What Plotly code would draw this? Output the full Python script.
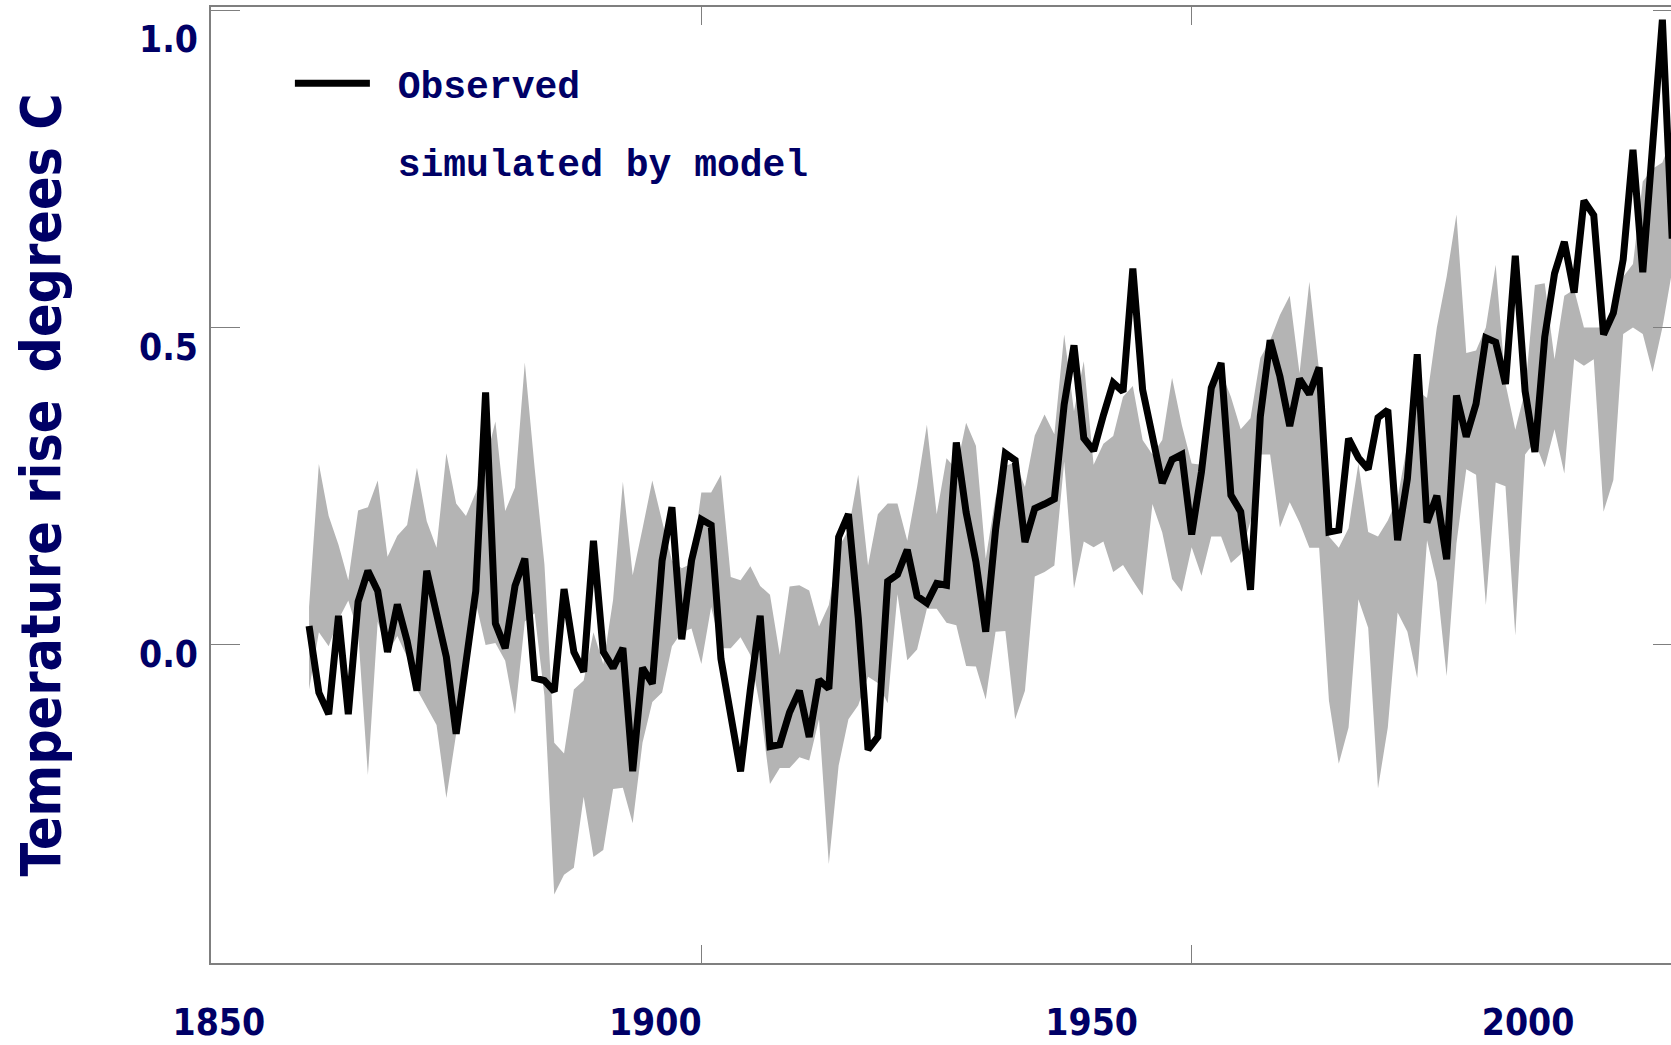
import plotly.graph_objects as go

years = list(range(1860, 2000))

observed = [
    0.030, -0.075, -0.109, 0.046, -0.109, 0.068, 0.117, 0.085, -0.011, 0.064,
    0.006, -0.072, 0.117, 0.051, -0.019, -0.140, -0.025, 0.085, 0.398, 0.034,
    -0.005, 0.093, 0.136, -0.052, -0.056, -0.073, 0.088, -0.011, -0.042, 0.164,
    -0.011, -0.036, -0.005, -0.199, -0.036, -0.061, 0.133, 0.217, 0.009, 0.133,
    0.198, 0.189, -0.022, -0.104, -0.199, -0.070, 0.046, -0.160, -0.157, -0.106,
    -0.072, -0.145, -0.055, -0.069, 0.170, 0.206, 0.043, -0.165, -0.145, 0.100,
    0.111, 0.150, 0.077, 0.066, 0.097, 0.094, 0.319, 0.209, 0.131, 0.021,
    0.181, 0.302, 0.291, 0.162, 0.215, 0.222, 0.230, 0.379, 0.472, 0.326,
    0.306, 0.362, 0.413, 0.399, 0.593, 0.402, 0.323, 0.255, 0.292, 0.300,
    0.174, 0.273, 0.405, 0.444, 0.236, 0.210, 0.087, 0.360, 0.480, 0.423,
    0.345, 0.419, 0.395, 0.437, 0.178, 0.181, 0.325, 0.295, 0.277, 0.358,
    0.370, 0.165, 0.262, 0.458, 0.193, 0.235, 0.135, 0.393, 0.328, 0.380,
    0.484, 0.477, 0.411, 0.613, 0.400, 0.304, 0.485, 0.585, 0.635, 0.555,
    0.700, 0.677, 0.489, 0.523, 0.607, 0.780, 0.587, 0.775, 0.985, 0.640,
]

model_upper = [
    0.060, 0.285, 0.203, 0.158, 0.102, 0.212, 0.217, 0.259, 0.139, 0.172,
    0.189, 0.279, 0.195, 0.153, 0.302, 0.223, 0.203, 0.240, 0.290, 0.352,
    0.211, 0.248, 0.445, 0.279, 0.127, -0.154, -0.171, -0.070, -0.056, 0.020,
    -0.030, 0.071, 0.257, 0.110, 0.183, 0.259, 0.195, 0.133, 0.121, 0.128,
    0.240, 0.240, 0.268, 0.107, 0.102, 0.124, 0.093, 0.079, -0.016, 0.092,
    0.094, 0.086, 0.029, 0.063, 0.153, 0.181, 0.268, 0.125, 0.206, 0.223,
    0.223, 0.164, 0.249, 0.347, 0.206, 0.294, 0.277, 0.350, 0.314, 0.136,
    0.232, 0.282, 0.288, 0.249, 0.330, 0.363, 0.332, 0.489, 0.368, 0.447,
    0.284, 0.317, 0.329, 0.391, 0.408, 0.323, 0.300, 0.323, 0.421, 0.346,
    0.286, 0.284, 0.402, 0.430, 0.391, 0.340, 0.357, 0.452, 0.480, 0.520,
    0.550, 0.428, 0.572, 0.431, 0.171, 0.153, 0.184, 0.286, 0.178, 0.171,
    0.196, 0.232, 0.316, 0.401, 0.389, 0.500, 0.580, 0.678, 0.460, 0.464,
    0.500, 0.599, 0.412, 0.339, 0.400, 0.567, 0.570, 0.450, 0.550, 0.560,
    0.500, 0.500, 0.500, 0.520, 0.580, 0.600, 0.730, 0.750, 0.760, 0.800,
]

model_lower = [
    -0.070, 0.020, -0.002, 0.040, 0.070, 0.020, -0.205, 0.037, -0.013, 0.014,
    -0.019, -0.070, -0.098, -0.126, -0.241, -0.140, -0.002, 0.067, 0.000, 0.003,
    -0.025, -0.109, 0.037, 0.050, -0.080, -0.393, -0.362, -0.351, -0.239, -0.334,
    -0.323, -0.227, -0.225, -0.281, -0.154, -0.090, -0.075, -0.002, 0.020, 0.026,
    -0.030, 0.060, -0.005, -0.005, 0.012, -0.016, -0.098, -0.219, -0.194, -0.194,
    -0.177, -0.182, -0.117, -0.345, -0.190, -0.117, -0.095, -0.050, -0.060, -0.092,
    0.080, -0.024, -0.007, 0.057, 0.057, 0.035, 0.031, -0.033, -0.034, -0.086,
    0.021, 0.022, -0.117, -0.072, 0.108, 0.115, 0.125, 0.289, 0.089, 0.163,
    0.154, 0.163, 0.115, 0.126, 0.101, 0.078, 0.222, 0.177, 0.104, 0.084,
    0.154, 0.109, 0.171, 0.171, 0.129, 0.143, 0.195, 0.300, 0.300, 0.185,
    0.225, 0.193, 0.153, 0.153, -0.088, -0.187, -0.130, 0.072, 0.027, -0.226,
    -0.130, 0.051, 0.021, -0.052, 0.165, 0.099, -0.049, 0.160, 0.277, 0.268,
    0.063, 0.256, 0.250, 0.015, 0.300, 0.320, 0.280, 0.340, 0.270, 0.450,
    0.440, 0.450, 0.210, 0.260, 0.490, 0.500, 0.490, 0.430, 0.500, 0.590,
]

x_tick_years = [1850, 1900, 1950, 2000]
x_tick_labels = ["1850", "1900", "1950", "2000"]
y_tick_values = [0.0, 0.5, 1.0]
y_tick_labels = ["0.0", "0.5", "1.0"]

NAVY = "#000066"
BAND = "#b4b4b4"
AXIS = "#7f7f7f"
TICKFONT = "DejaVu Sans Condensed, DejaVu Sans"

fig = go.Figure()

fig.add_trace(go.Scatter(
    x=years, y=model_lower, mode="lines", line=dict(width=0, color=BAND),
    showlegend=False, hoverinfo="skip",
))
fig.add_trace(go.Scatter(
    x=years, y=model_upper, mode="lines", line=dict(width=0, color=BAND),
    fill="tonexty", fillcolor=BAND, showlegend=False, hoverinfo="skip",
))
fig.add_trace(go.Scatter(
    x=years, y=observed, mode="lines", name="\u00a0Observed",
    line=dict(color="black", width=7), legendgroup="a",
))
fig.add_trace(go.Scatter(
    x=[None], y=[None], mode="lines", name="\u00a0simulated by model",
    line=dict(color="rgba(0,0,0,0)", width=0), legendgroup="b",
))
# label-only axes
fig.add_trace(go.Scatter(
    x=[], y=[], xaxis="x2", yaxis="y2", showlegend=False, hoverinfo="skip",
))

# The chart is slightly wider than the window; its right edge is cropped
W, H = 1684, 1045
L, R, T, B = 211, 0, 7, 82
PX_PER_YEAR = (W - L - R) / 150.0

fig.update_layout(
    width=W, height=H,
    margin=dict(l=L, r=R, t=T, b=B, pad=0),
    paper_bgcolor="white", plot_bgcolor="white",
    font=dict(family=TICKFONT, color=NAVY),
    xaxis=dict(
        range=[1850, 2000],
        tickvals=x_tick_years, showticklabels=False,
        ticks="inside", ticklen=18, tickwidth=1.2, tickcolor=AXIS,
        showline=True, linecolor=AXIS, linewidth=1.5, mirror="ticks",
        showgrid=False, zeroline=False,
    ),
    yaxis=dict(
        range=[-0.501, 1.005],
        tickvals=y_tick_values, showticklabels=False,
        ticks="inside", ticklen=29, tickwidth=1.2, tickcolor=AXIS,
        showline=True, linecolor=AXIS, linewidth=1.5, mirror="ticks",
        showgrid=False, zeroline=False,
    ),
    xaxis2=dict(
        overlaying="x", anchor="y2", side="bottom",
        range=[1849.102, 1850 + (W - 218.85) / 8.74],
        tickvals=x_tick_years, ticktext=x_tick_labels,
        ticks="", showline=False, showgrid=False, zeroline=False,
        tickfont=dict(size=37, color=NAVY, family=TICKFONT, weight="bold"),
        ticklabelstandoff=34,
    ),
    yaxis2=dict(
        overlaying="y", anchor="x2", side="left",
        range=[-0.5025, 1.0524],
        tickvals=y_tick_values, ticktext=y_tick_labels,
        ticks="", showline=False, showgrid=False, zeroline=False,
        tickfont=dict(size=37, color=NAVY, family=TICKFONT, weight="bold"),
        ticklabelstandoff=12,
        title=dict(
            text="Temperature rise\u2009 degrees C",
            font=dict(size=55, color=NAVY, family="DejaVu Sans Condensed, DejaVu Sans", weight="bold"),
            standoff=60,
        ),
    ),
    legend=dict(
        x=(290 - L) / (W - L - R), y=1 - (52 - T) / (H - T - B),
        xanchor="left", yanchor="top",
        bgcolor="rgba(0,0,0,0)", borderwidth=0,
        font=dict(size=38, color=NAVY, family="Liberation Mono, Courier New, monospace", weight="bold"),
        itemwidth=75, tracegroupgap=26,
    ),
    showlegend=True,
)

fig.write_html(
    "out.html",
    config={"displayModeBar": False},
    post_script="document.body.style.margin='0';document.body.style.overflow='hidden';",
)
